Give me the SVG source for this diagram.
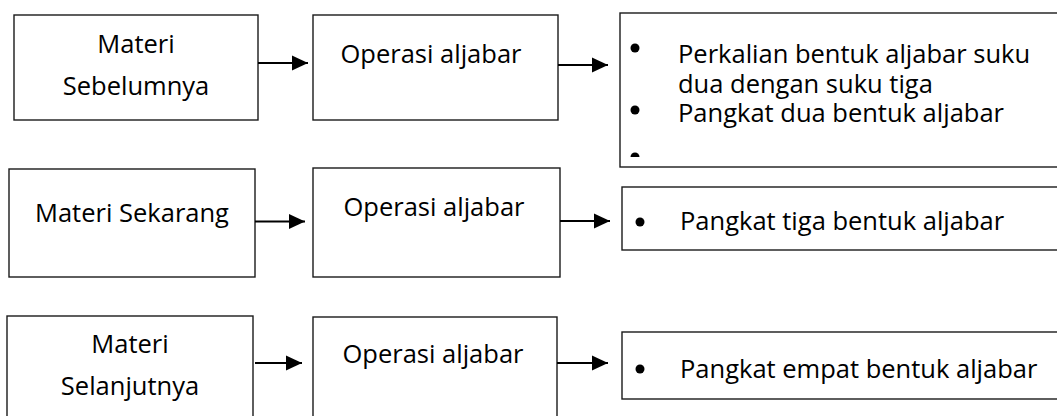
<svg xmlns="http://www.w3.org/2000/svg" width="1057" height="416" viewBox="0 0 1057 416">
<style>
.box{fill:#fff;stroke:#1a1a1a;stroke-width:1.4}
.t{font-family:"Open Sans","Liberation Sans",sans-serif;font-size:25.5px;fill:#000}
.c{text-anchor:middle}
.arr{stroke:#000;stroke-width:2.2;fill:none;marker-end:url(#ah)}
.dot{fill:#000}
</style>
<defs>
<marker id="ah" markerUnits="userSpaceOnUse" markerWidth="17" markerHeight="16" refX="16" refY="8" orient="auto">
<path d="M0,0.5 L16,8 L0,15.5 z" fill="#000"/>
</marker>
<clipPath id="clip3"><rect x="620" y="13" width="450" height="144"/></clipPath>
</defs>
<rect width="1057" height="416" fill="#fff"/>

<g id="sebelumnya">
<rect class="box" x="14" y="15" width="244" height="105"/>
<text class="t c" x="136" y="53">Materi</text>
<text class="t c" x="136" y="95">Sebelumnya</text>
</g>
<g id="operasi1">
<rect class="box" x="313" y="15" width="245" height="105"/>
<text class="t c" x="431" y="63">Operasi aljabar</text>
</g>
<g id="list1">
<rect class="box" x="620" y="13" width="460" height="154"/>
<g clip-path="url(#clip3)">
<circle class="dot" cx="635" cy="48" r="4.5"/>
<circle class="dot" cx="635" cy="110" r="4.5"/>
<circle class="dot" cx="635" cy="157" r="4.5"/>
</g>
<text class="t" x="678" y="63">Perkalian bentuk aljabar suku</text>
<text class="t" x="678" y="93">dua dengan suku tiga</text>
<text class="t" x="678" y="122">Pangkat dua bentuk aljabar</text>
</g>

<g id="sekarang">
<rect class="box" x="9" y="169" width="246" height="108"/>
<text class="t c" x="132" y="222">Materi Sekarang</text>
</g>
<g id="operasi2">
<rect class="box" x="313" y="168" width="247" height="109"/>
<text class="t c" x="434" y="216">Operasi aljabar</text>
</g>
<g id="list2">
<rect class="box" x="622" y="187" width="460" height="63"/>
<circle class="dot" cx="640" cy="222" r="4.5"/>
<text class="t" x="680" y="230">Pangkat tiga bentuk aljabar</text>
</g>

<g id="selanjutnya">
<rect class="box" x="7" y="316" width="246" height="150"/>
<text class="t c" x="130" y="353">Materi</text>
<text class="t c" x="130" y="395">Selanjutnya</text>
</g>
<g id="operasi3">
<rect class="box" x="313" y="317" width="244" height="150"/>
<text class="t c" x="433" y="363">Operasi aljabar</text>
</g>
<g id="list3">
<rect class="box" x="622" y="332" width="460" height="67"/>
<circle class="dot" cx="640" cy="369" r="4.5"/>
<text class="t" x="680" y="378">Pangkat empat bentuk aljabar</text>
</g>

<g id="connectors">
<line class="arr" x1="258" y1="63" x2="308" y2="63"/>
<line class="arr" x1="558" y1="65" x2="608" y2="65"/>
<line class="arr" x1="255" y1="221.5" x2="305" y2="221.5"/>
<line class="arr" x1="560" y1="221" x2="610" y2="221"/>
<line class="arr" x1="255" y1="363" x2="302" y2="363"/>
<line class="arr" x1="557" y1="363" x2="608" y2="363"/>
</g>
</svg>
